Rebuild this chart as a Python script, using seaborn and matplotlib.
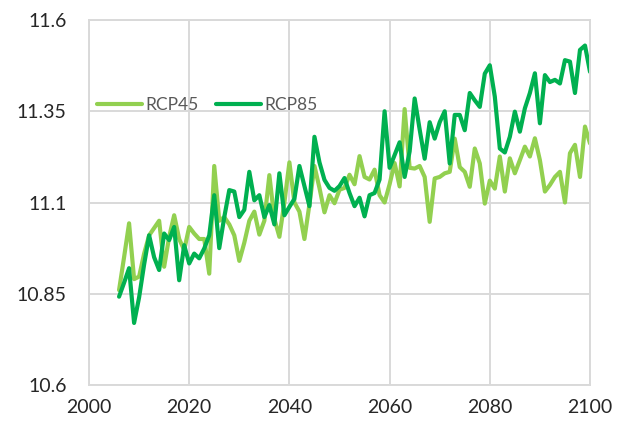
import numpy as np
import pandas as pd
import matplotlib
matplotlib.use("Agg")
import matplotlib.pyplot as plt
import seaborn as sns

years = list(range(2006, 2101))

rcp45 = [
    10.86, 10.95, 11.043, 10.89, 10.897, 10.96, 11.01, 11.03, 11.05, 10.924,
    11.006, 11.065, 11.0, 10.97, 11.033, 11.015, 11.0, 11.0, 10.905, 11.2,
    11.05, 11.06, 11.04, 11.01, 10.94, 10.99, 11.05, 11.075, 11.012, 11.05,
    11.175, 11.055, 11.006, 11.1, 11.21, 11.1, 11.075, 11.0, 11.095, 11.2,
    11.14, 11.073, 11.12, 11.098, 11.135, 11.14, 11.176, 11.15, 11.227, 11.17,
    11.163, 11.19, 11.12, 11.1, 11.15, 11.208, 11.144, 11.356, 11.195, 11.193,
    11.2, 11.17, 11.047, 11.166, 11.17, 11.18, 11.184, 11.275, 11.197, 11.184,
    11.143, 11.248, 11.207, 11.097, 11.16, 11.138, 11.226, 11.13, 11.221, 11.18,
    11.216, 11.253, 11.226, 11.276, 11.216, 11.13, 11.148, 11.17, 11.184, 11.1,
    11.235, 11.258, 11.17, 11.308, 11.262,
]

rcp85 = [
    10.842, 10.88, 10.92, 10.77, 10.84, 10.93, 11.01, 10.95, 10.915, 11.015,
    10.997, 11.033, 10.887, 10.983, 10.933, 10.96, 10.947, 10.974, 11.01, 11.12,
    10.975, 11.06, 11.134, 11.13, 11.06, 11.08, 11.184, 11.106, 11.12, 11.06,
    11.093, 11.04, 11.18, 11.065, 11.088, 11.11, 11.2, 11.145, 11.09, 11.28,
    11.21, 11.162, 11.14, 11.132, 11.145, 11.167, 11.126, 11.09, 11.113, 11.062,
    11.12, 11.126, 11.163, 11.35, 11.195, 11.23, 11.265, 11.17, 11.24, 11.385,
    11.30, 11.22, 11.32, 11.275, 11.32, 11.35, 11.207, 11.34, 11.34, 11.298,
    11.40, 11.38, 11.362, 11.453, 11.476, 11.39, 11.248, 11.237, 11.28, 11.349,
    11.294, 11.358, 11.40, 11.454, 11.317, 11.449, 11.43, 11.436, 11.426, 11.49,
    11.486, 11.40, 11.518, 11.53, 11.458,
]

series_names = ["RCP45", "RCP85"]
x_ticks = [2000, 2020, 2040, 2060, 2080, 2100]
y_ticks = [10.6, 10.85, 11.1, 11.35, 11.6]
y_tick_labels = ["10.6", "10.85", "11.1", "11.35", "11.6"]

df = pd.DataFrame({
    "year": years * 2,
    "value": rcp45 + rcp85,
    "scenario": [series_names[0]] * len(years) + [series_names[1]] * len(years),
})

sns.set_theme(style="white")
plt.rcParams["font.family"] = ["Lato", "DejaVu Sans"]

fig = plt.figure(figsize=(6.21, 4.30), dpi=100)
ax = fig.add_axes([89 / 621, 1 - 385 / 430, 501 / 621, 365 / 430])

palette = {"RCP45": "#92d050", "RCP85": "#00b050"}
sns.lineplot(data=df, x="year", y="value", hue="scenario", hue_order=series_names,
             palette=palette, linewidth=3.0, ax=ax, legend=True)

ax.set_xlim(2000, 2100)
ax.set_ylim(10.6, 11.6)
ax.set_xticks(x_ticks)
ax.set_yticks(y_ticks)
ax.set_yticklabels(y_tick_labels)
ax.set_xlabel("")
ax.set_ylabel("")

grid_color = "#d9d9d9"
ax.grid(True, color=grid_color, linewidth=1.4)
ax.set_axisbelow(True)
for side in ["left", "bottom", "right", "top"]:
    ax.spines[side].set_color(grid_color)
    ax.spines[side].set_linewidth(1.4)

ax.tick_params(axis="both", length=0, labelsize=14, labelcolor="#262626")
ax.tick_params(axis="y", pad=16)
ax.tick_params(axis="x", pad=10)

ax.legend(loc="center left", bbox_to_anchor=(0.005, 0.767), ncol=2, frameon=False,
          fontsize=12.5, labelcolor="#595959", handlelength=2.6, handletextpad=0.2,
          columnspacing=1.0, borderaxespad=0.3, borderpad=0)

fig.savefig("out.png", dpi=100)
